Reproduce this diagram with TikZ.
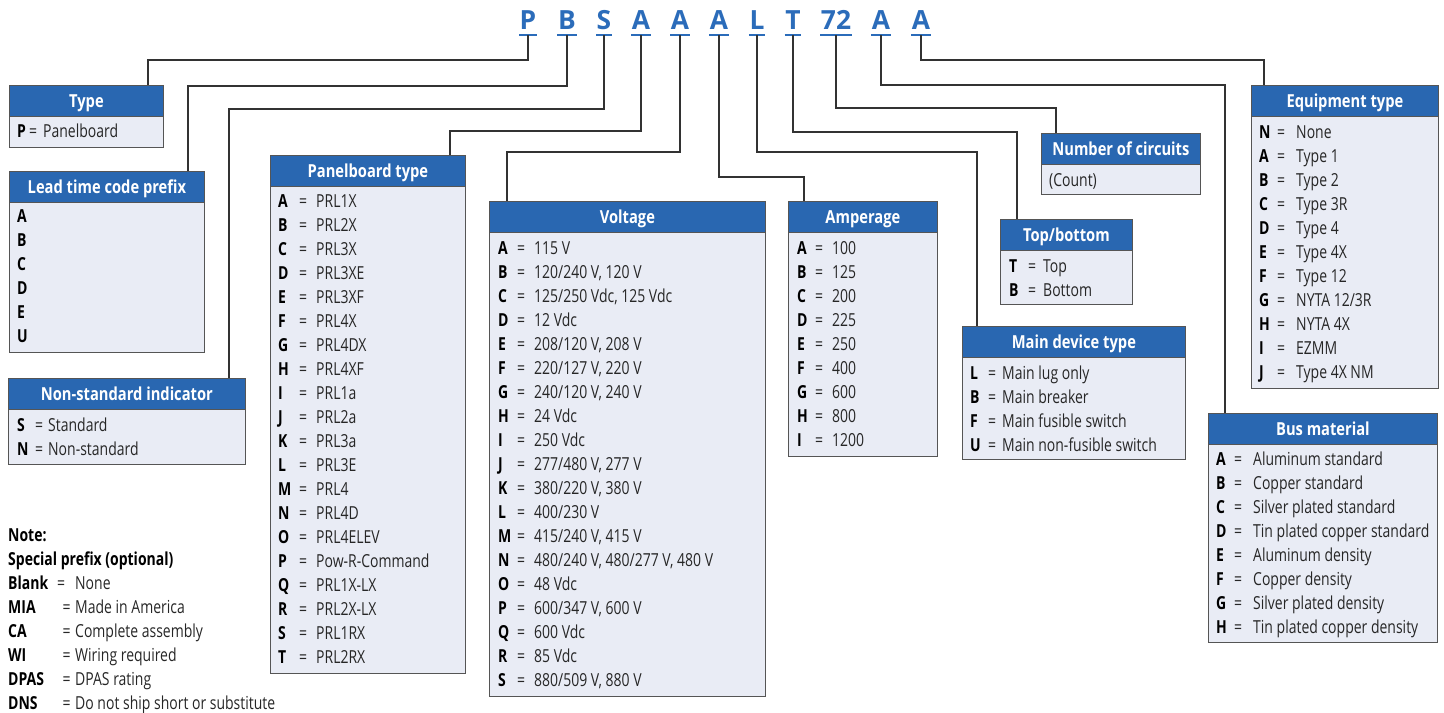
\documentclass[tikz,border=0pt]{standalone}
\usepackage{fontspec}
\setmainfont{Open Sans}
\newfontfamily\narrowfont[FakeStretch=0.78]{Open Sans}
\newfontfamily\headfont[FakeStretch=0.82]{Open Sans}
\definecolor{headblue}{RGB}{41,103,177}
\definecolor{codeblue}{RGB}{43,108,186}
\definecolor{bodyfill}{RGB}{233,236,245}
\definecolor{wirecol}{RGB}{50,50,50}
\definecolor{edgecol}{RGB}{85,85,85}
\tikzset{
  head/.style={draw=edgecol, line width=0.8bp, fill=headblue, text=white, anchor=north west,
    inner sep=0pt, minimum height=31bp, text height=13bp, text depth=0bp,
    font=\headfont\bfseries\fontsize{18}{20}\selectfont},
  body/.style={draw=edgecol, line width=0.8bp, fill=bodyfill, anchor=north west, inner sep=0pt},
  key/.style={anchor=base west, inner sep=0pt, font=\narrowfont\bfseries\fontsize{18}{20}\selectfont},
  val/.style={anchor=base west, inner sep=0pt, text=black!85, font=\narrowfont\fontsize{18}{20}\selectfont},
  code/.style={anchor=base, text=codeblue, inner xsep=0.5bp, inner ysep=5bp, text depth=0bp,
    font=\bfseries\fontsize{26.5}{28}\selectfont},
  uline/.style={codeblue, line width=2.6bp},
  wire/.style={wirecol, line width=1.1bp},
}
\begin{document}
\begin{tikzpicture}[x=1bp, y=-1bp]
  \useasboundingbox (0,0) rectangle (1444,713);

  % catalog code letters
  \node[code] (c1) at (528,30) {P};
  \node[code] (c2) at (567,30) {B};
  \node[code] (c3) at (604,30) {S};
  \node[code] (c4) at (641,30) {A};
  \node[code] (c5) at (680,30) {A};
  \node[code] (c6) at (719,30) {A};
  \node[code] (c7) at (757,30) {L};
  \node[code] (c8) at (793,30) {T};
  \node[code] (c9) at (836,30) {72};
  \node[code] (c10) at (881,30) {A};
  \node[code] (c11) at (921,30) {A};
  \foreach \c in {1,...,11}
    \draw[uline] (c\c.south west) -- (c\c.south east);

  % boxes
  \node[body, minimum width=154bp, minimum height=62bp] (typb) at (9,85) {};
  \node[head, minimum width=154bp] (typ) at (9,85) {Type};
  \node[body, minimum width=195bp, minimum height=181bp] (leadb) at (9,171) {};
  \node[head, minimum width=195bp] (lead) at (9,171) {Lead time code prefix};
  \node[body, minimum width=237bp, minimum height=86bp] (nstdb) at (8,378) {};
  \node[head, minimum width=237bp] (nstd) at (8,378) {Non-standard indicator};
  \node[body, minimum width=195bp, minimum height=518bp] (pbtb) at (270,155) {};
  \node[head, minimum width=195bp] (pbt) at (270,155) {Panelboard type};
  \node[body, minimum width=276bp, minimum height=495bp] (voltb) at (489,201) {};
  \node[head, minimum width=276bp] (volt) at (489,201) {Voltage};
  \node[body, minimum width=149bp, minimum height=255bp] (ampb) at (788,201) {};
  \node[head, minimum width=149bp] (amp) at (788,201) {Amperage};
  \node[body, minimum width=132bp, minimum height=85bp] (topbb) at (1000,219) {};
  \node[head, minimum width=132bp] (topb) at (1000,219) {Top/bottom};
  \node[body, minimum width=223bp, minimum height=133bp] (mainb) at (962,326) {};
  \node[head, minimum width=223bp] (main) at (962,326) {Main device type};
  \node[body, minimum width=159bp, minimum height=61bp] (ncircb) at (1041,133) {};
  \node[head, minimum width=159bp] (ncirc) at (1041,133) {Number of circuits};
  \node[body, minimum width=187bp, minimum height=303bp] (equipb) at (1251,85) {};
  \node[head, minimum width=187bp] (equip) at (1251,85) {Equipment type};
  \node[body, minimum width=229bp, minimum height=229bp] (busb) at (1208,413) {};
  \node[head, minimum width=229bp] (bus) at (1208,413) {Bus material};

  % rows
  \node[key] (typk) at (17,137.5) {P};
  \node[val] (type) at (29,137.5) {=};
  \node[val] (typv) at (43,137.5) {Panelboard};
  \foreach \k [count=\i from 0] in {A,B,C,D,E,U}
    \node[key] (leadk\i) at (17,222.5+24*\i) {\k};
  \foreach \k/\v [count=\i from 0] in {S/Standard, N/Non-standard} {
    \node[key] (nstdk\i) at (17,431.5+24*\i) {\k};
    \node[val] (nstde\i) at (35,431.5+24*\i) {=};
    \node[val] (nstdv\i) at (48,431.5+24*\i) {\v};
  }
  \foreach \k/\v [count=\i from 0] in {A/PRL1X, B/PRL2X, C/PRL3X, D/PRL3XE, E/PRL3XF, F/PRL4X,
      G/PRL4DX, H/PRL4XF, I/PRL1a, J/PRL2a, K/PRL3a, L/PRL3E, M/PRL4, N/PRL4D, O/PRL4ELEV,
      P/Pow-R-Command, Q/PRL1X-LX, R/PRL2X-LX, S/PRL1RX, T/PRL2RX} {
    \node[key] (pbtk\i) at (278,207.5+24*\i) {\k};
    \node[val] (pbte\i) at (299,207.5+24*\i) {=};
    \node[val] (pbtv\i) at (316,207.5+24*\i) {\v};
  }
  \foreach \k/\v [count=\i from 0] in {A/{115 V}, B/{120/240 V, 120 V}, C/{125/250 Vdc, 125 Vdc},
      D/{12 Vdc}, E/{208/120 V, 208 V}, F/{220/127 V, 220 V}, G/{240/120 V, 240 V}, H/{24 Vdc},
      I/{250 Vdc}, J/{277/480 V, 277 V}, K/{380/220 V, 380 V}, L/{400/230 V}, M/{415/240 V, 415 V},
      N/{480/240 V, 480/277 V, 480 V}, O/{48 Vdc}, P/{600/347 V, 600 V}, Q/{600 Vdc}, R/{85 Vdc},
      S/{880/509 V, 880 V}} {
    \node[key] (voltk\i) at (498,254.5+24*\i) {\k};
    \node[val] (volte\i) at (517,254.5+24*\i) {=};
    \node[val] (voltv\i) at (534,254.5+24*\i) {\v};
  }
  \foreach \k/\v [count=\i from 0] in {A/100, B/125, C/200, D/225, E/250, F/400, G/600, H/800, I/1200} {
    \node[key] (ampk\i) at (797,254.5+24*\i) {\k};
    \node[val] (ampe\i) at (815,254.5+24*\i) {=};
    \node[val] (ampv\i) at (832,254.5+24*\i) {\v};
  }
  \foreach \k/\v [count=\i from 0] in {T/Top, B/Bottom} {
    \node[key] (topbk\i) at (1009,272.5+24*\i) {\k};
    \node[val] (topbe\i) at (1028,272.5+24*\i) {=};
    \node[val] (topbv\i) at (1043,272.5+24*\i) {\v};
  }
  \foreach \k/\v [count=\i from 0] in {L/Main lug only, B/Main breaker, F/Main fusible switch,
      U/Main non-fusible switch} {
    \node[key] (maink\i) at (970,379.5+24*\i) {\k};
    \node[val] (maine\i) at (988,379.5+24*\i) {=};
    \node[val] (mainv\i) at (1002,379.5+24*\i) {\v};
  }
  \node[val] (ncircv) at (1049,186.5) {(Count)};
  \foreach \k/\v [count=\i from 0] in {N/None, A/Type 1, B/Type 2, C/Type 3R, D/Type 4, E/Type 4X,
      F/Type 12, G/{NYTA 12/3R}, H/NYTA 4X, I/EZMM, J/Type 4X NM} {
    \node[key] (equipk\i) at (1259,138.5+24*\i) {\k};
    \node[val] (equipe\i) at (1277,138.5+24*\i) {=};
    \node[val] (equipv\i) at (1296,138.5+24*\i) {\v};
  }
  \foreach \k/\v [count=\i from 0] in {A/Aluminum standard, B/Copper standard, C/Silver plated standard,
      D/Tin plated copper standard, E/Aluminum density, F/Copper density, G/Silver plated density,
      H/Tin plated copper density} {
    \node[key] (busk\i) at (1216,465.5+24*\i) {\k};
    \node[val] (buse\i) at (1234,465.5+24*\i) {=};
    \node[val] (busv\i) at (1253,465.5+24*\i) {\v};
  }

  % note
  \node[key] (note) at (8,541.5) {Note:};
  \node[key] (spec) at (8,565.5) {Special prefix (optional)};
  \node[key] (spk0) at (8,589.5) {Blank};
  \node[val] (spe0) at (57,589.5) {=};
  \node[val] (spv0) at (75,589.5) {None};
  \foreach \k/\v [count=\i from 1] in {MIA/Made in America, CA/Complete assembly, WI/Wiring required,
      DPAS/DPAS rating, DNS/Do not ship short or substitute} {
    \node[key] (spk\i) at (8,589.5+24*\i) {\k};
    \node[val] (spe\i) at (62.5,589.5+24*\i) {=};
    \node[val] (spv\i) at (75,589.5+24*\i) {\v};
  }

  % connectors
  \coordinate (j1) at (148,60);
  \coordinate (j2) at (188,86);
  \coordinate (j3) at (229,109);
  \coordinate (j4) at (450,131);
  \coordinate (j5) at (507,152);
  \coordinate (j6) at (804,177);
  \coordinate (j7) at (977,152);
  \coordinate (j8) at (1017,132);
  \coordinate (j9) at (1056,108);
  \coordinate (j10) at (1225,85);
  \coordinate (j11) at (1264,60);
  \draw[wire] (c1.south) |- (j1) -- (j1 |- typ.north);
  \draw[wire] (c2.south) |- (j2) -- (j2 |- lead.north);
  \draw[wire] (c3.south) |- (j3) -- (j3 |- nstd.north);
  \draw[wire] (c4.south) |- (j4) -- (j4 |- pbt.north);
  \draw[wire] (c5.south) |- (j5) -- (j5 |- volt.north);
  \draw[wire] (c6.south) |- (j6) -- (j6 |- amp.north);
  \draw[wire] (c7.south) |- (j7) -- (j7 |- main.north);
  \draw[wire] (c8.south) |- (j8) -- (j8 |- topb.north);
  \draw[wire] (c9.south) |- (j9) -- (j9 |- ncirc.north);
  \draw[wire] (c10.south) |- (j10) -- (j10 |- bus.north);
  \draw[wire] (c11.south) |- (j11) -- (j11 |- equip.north);
\end{tikzpicture}
\end{document}
